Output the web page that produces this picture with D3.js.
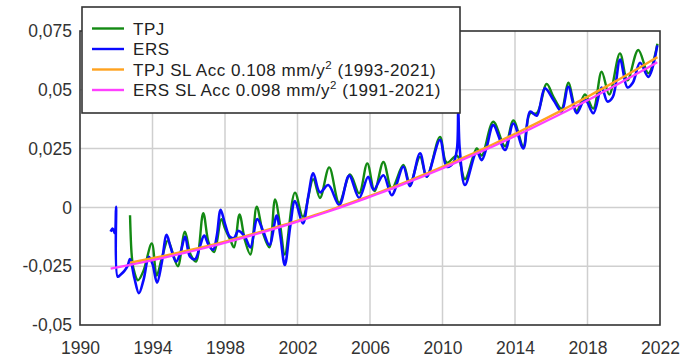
<!DOCTYPE html>
<html>
<head>
<meta charset="utf-8">
<script src="https://cdn.jsdelivr.net/npm/d3@7"></script>
<style>
  html, body { margin: 0; padding: 0; background: #fff; }
  svg { display: block; font-family: "Liberation Sans", Arial, sans-serif; }
</style>
</head>
<body>
<svg id="chart" width="682" height="361"></svg>
<script>
// Global mean sea level anomaly (m): TOPEX/Poseidon-Jason and ERS-based records
const tpjSeries = [
  [1992.76,-0.0033],[1992.85,-0.0200],[1992.94,-0.0257],[1993.20,-0.0310],[1993.50,-0.0270],
  [1993.96,-0.0153],[1994.23,-0.0290],[1994.50,-0.0220],[1994.85,-0.0140],[1995.10,-0.0190],
  [1995.40,-0.0250],[1995.79,-0.0103],[1996.10,-0.0200],[1996.40,-0.0230],[1996.80,-0.0025],
  [1997.10,-0.0150],[1997.40,-0.0190],[1997.80,-0.0050],[1998.00,-0.0090],[1998.30,-0.0140],
  [1998.50,-0.0170],[1998.80,-0.0030],[1999.10,-0.0140],[1999.40,-0.0200],[1999.75,0.0003],
  [2000.10,-0.0110],[2000.45,-0.0170],[2000.76,0.0034],[2001.05,-0.0080],[2001.30,-0.0200],
  [2001.86,0.0063],[2002.30,-0.0040],[2002.87,0.0120],[2003.24,0.0040],[2003.75,0.0170],
  [2004.30,0.0020],[2004.90,0.0140],[2005.40,0.0060],[2005.85,0.0187],[2006.25,0.0070],
  [2006.74,0.0193],[2007.20,0.0080],[2007.84,0.0180],[2008.20,0.0100],[2008.76,0.0215],
  [2009.13,0.0130],[2009.86,0.0300],[2010.23,0.0190],[2010.80,0.0220],[2011.24,0.0120],
  [2011.89,0.0251],[2012.16,0.0220],[2012.80,0.0364],[2013.45,0.0260],[2013.91,0.0370],
  [2014.46,0.0260],[2014.83,0.0400],[2015.20,0.0400],[2015.75,0.0525],[2016.12,0.0470],
  [2016.57,0.0420],[2016.94,0.0530],[2017.40,0.0410],[2017.86,0.0480],[2018.32,0.0420],
  [2018.78,0.0577],[2019.20,0.0480],[2019.79,0.0655],[2020.20,0.0540],[2020.80,0.0669],
  [2021.36,0.0570],[2021.86,0.0696]
];

const ersSeries = [
  [1991.69,-0.0103],[1991.80,-0.0090],[1991.92,-0.0110],[1991.99,0.0003],[1992.08,-0.0295],
  [1992.25,-0.0285],[1992.45,-0.0270],[1992.62,-0.0250],[1992.76,-0.0220],[1993.00,-0.0300],
  [1993.25,-0.0365],[1993.50,-0.0310],[1993.80,-0.0210],[1994.00,-0.0240],[1994.25,-0.0320],
  [1994.50,-0.0240],[1994.78,-0.0117],[1995.00,-0.0170],[1995.30,-0.0230],[1995.55,-0.0190],
  [1995.80,-0.0125],[1996.07,-0.0210],[1996.35,-0.0220],[1996.60,-0.0170],[1996.85,-0.0120],
  [1997.10,-0.0160],[1997.35,-0.0180],[1997.55,-0.0120],[1997.76,-0.0010],[1998.00,-0.0070],
  [1998.27,-0.0125],[1998.50,-0.0130],[1998.73,-0.0100],[1999.10,-0.0125],[1999.40,-0.0170],
  [1999.78,-0.0050],[2000.10,-0.0100],[2000.45,-0.0160],[2000.85,-0.0035],[2001.05,-0.0120],
  [2001.30,-0.0245],[2001.60,-0.0080],[2001.86,0.0027],[2002.30,-0.0068],[2002.60,0.0050],
  [2002.87,0.0145],[2003.24,0.0064],[2003.70,0.0095],[2004.30,0.0010],[2004.85,0.0135],
  [2005.40,0.0040],[2005.90,0.0130],[2006.20,0.0075],[2006.74,0.0137],[2007.20,0.0052],
  [2007.84,0.0173],[2008.20,0.0090],[2008.76,0.0230],[2009.13,0.0131],[2009.86,0.0287],
  [2010.23,0.0173],[2010.60,0.0190],[2010.80,0.0250],[2010.87,0.0407],[2010.95,0.0250],
  [2011.24,0.0095],[2011.89,0.0237],[2012.16,0.0201],[2012.45,0.0260],[2012.80,0.0350],
  [2013.45,0.0244],[2013.91,0.0357],[2014.46,0.0251],[2014.83,0.0407],[2015.20,0.0390],
  [2015.65,0.0506],[2016.12,0.0457],[2016.57,0.0407],[2016.94,0.0513],[2017.40,0.0400],
  [2017.86,0.0460],[2018.32,0.0400],[2018.78,0.0510],[2019.10,0.0450],[2019.40,0.0470],
  [2019.80,0.0629],[2020.20,0.0510],[2020.50,0.0530],[2020.90,0.0615],[2021.36,0.0555],
  [2021.85,0.0689]
];

// Quadratic sea-level fits: acceleration (mm/y^2) and fitted level at both ends (m)
const fitAccel      = [0.108, 0.098];
const fitStartLevel = [-0.0235, -0.0260];
const fitEndLevel   = [0.0639, 0.0617];
const fitPeriods    = ["1993-2021", "1991-2021"];

const seriesNames  = ["TPJ", "ERS"];
const xTicks       = [1990, 1994, 1998, 2002, 2006, 2010, 2014, 2018, 2022];
const yTicks       = [-0.05, -0.025, 0, 0.025, 0.05, 0.075];
const yTickLabels  = ["-0,05", "-0,025", "0", "0,025", "0,05", "0,075"];

const colors = { tpj: "#138a13", ers: "#0a0aff", tpjFit: "#ffa21f", ersFit: "#ff40ff" };

const svg = d3.select("#chart");
const plot = { left: 80, right: 660, top: 31, bottom: 325 };

const x = d3.scaleLinear().domain([1990, 2022]).range([plot.left, plot.right]);
const y = d3.scaleLinear().domain([-0.05, 0.075]).range([plot.bottom, plot.top]);

svg.append("rect").attr("width", 682).attr("height", 361).attr("fill", "#fff");

// grid
const grid = svg.append("g").attr("stroke", "#cfcfcf").attr("stroke-width", 1.5);
grid.selectAll("line.v").data(xTicks.slice(1, -1)).join("line")
  .attr("x1", d => x(d)).attr("x2", d => x(d))
  .attr("y1", plot.top).attr("y2", plot.bottom);
grid.selectAll("line.h").data(yTicks.slice(1, -1)).join("line")
  .attr("x1", plot.left).attr("x2", plot.right)
  .attr("y1", d => y(d)).attr("y2", d => y(d));

// axes labels (axis lines hidden, the frame is drawn separately)
const xAxis = d3.axisBottom(x).tickValues(xTicks).tickFormat(d3.format("d")).tickSize(0).tickPadding(17);
const yAxis = d3.axisLeft(y).tickValues(yTicks).tickFormat((d, i) => yTickLabels[i]).tickSize(0).tickPadding(8);

const gx = svg.append("g").attr("transform", `translate(0,${plot.bottom})`).call(xAxis);
const gy = svg.append("g").attr("transform", `translate(${plot.left},0)`).call(yAxis);
[gx, gy].forEach(g => {
  g.select(".domain").remove();
  g.selectAll("text").attr("font-size", 17.5).attr("fill", "#333")
    .attr("font-family", "\"Liberation Sans\", Arial, sans-serif");
});

// series
const line = d3.line().x(d => x(d[0])).y(d => y(d[1])).curve(d3.curveCatmullRom.alpha(0.5));
const clip = svg.append("clipPath").attr("id", "clip").append("rect")
  .attr("x", plot.left).attr("y", plot.top)
  .attr("width", plot.right - plot.left).attr("height", plot.bottom - plot.top);
const data = svg.append("g").attr("clip-path", "url(#clip)");

data.append("path").datum(tpjSeries).attr("d", line)
  .attr("fill", "none").attr("stroke", colors.tpj).attr("stroke-width", 2.4).attr("stroke-linejoin", "round");
data.append("path").datum(ersSeries).attr("d", line)
  .attr("fill", "none").attr("stroke", colors.ers).attr("stroke-width", 2.6).attr("stroke-linejoin", "round");

// quadratic fit curves over each record's time span
function quadFit(series, i) {
  const t0 = series[0][0], t1 = series[series.length - 1][0];
  const T = t1 - t0;
  const a = fitAccel[i] / 1000; // m/y^2
  const v0 = fitStartLevel[i];
  const b = (fitEndLevel[i] - v0 - 0.5 * a * T * T) / T;
  return d3.range(0, 61).map(k => {
    const t = t0 + T * k / 60;
    const dt = t - t0;
    return [t, v0 + b * dt + 0.5 * a * dt * dt];
  });
}
const straight = d3.line().x(d => x(d[0])).y(d => y(d[1]));
data.append("path").datum(quadFit(tpjSeries, 0)).attr("d", straight)
  .attr("fill", "none").attr("stroke", colors.tpjFit).attr("stroke-width", 2.4);
data.append("path").datum(quadFit(ersSeries, 1)).attr("d", straight)
  .attr("fill", "none").attr("stroke", colors.ersFit).attr("stroke-width", 2.2);

// frame
svg.append("rect").attr("x", plot.left).attr("y", plot.top)
  .attr("width", plot.right - plot.left).attr("height", plot.bottom - plot.top)
  .attr("fill", "none").attr("stroke", "#333").attr("stroke-width", 1.6);

// legend
const legend = svg.append("g");
legend.append("rect").attr("x", 82).attr("y", 7).attr("width", 378).attr("height", 106)
  .attr("fill", "#fff").attr("stroke", "#333").attr("stroke-width", 1.6);

const legendItems = [
  { color: colors.tpj, text: seriesNames[0] },
  { color: colors.ers, text: seriesNames[1] },
  { color: colors.tpjFit, fit: 0 },
  { color: colors.ersFit, fit: 1 }
];
const rowY = [28.5, 49, 69.5, 90];
legendItems.forEach((it, i) => {
  legend.append("line").attr("x1", 92).attr("x2", 124).attr("y1", rowY[i]).attr("y2", rowY[i])
    .attr("stroke", it.color).attr("stroke-width", 2.4);
  const t = legend.append("text").attr("x", 133).attr("y", rowY[i] + 6)
    .attr("font-size", 17).attr("letter-spacing", 0.55).attr("fill", "#222");
  if (it.fit === undefined) {
    t.text(it.text);
  } else {
    t.append("tspan").text(`${seriesNames[it.fit]} SL Acc ${fitAccel[it.fit].toFixed(3)} mm/y`);
    t.append("tspan").attr("dy", -7).attr("font-size", 11.5).text("2");
    t.append("tspan").attr("dy", 7).text(` (${fitPeriods[it.fit]})`);
  }
});
</script>
</body>
</html>
